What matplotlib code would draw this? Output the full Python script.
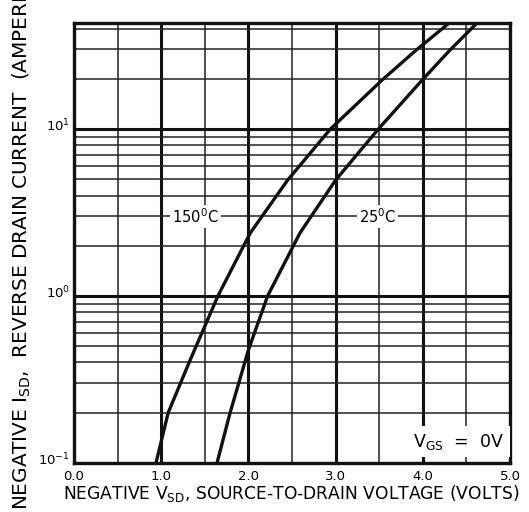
#!/usr/bin/env python3
# -*- coding: utf-8 -*-

import matplotlib
matplotlib.use("Agg")
import matplotlib.pyplot as plt
import matplotlib.transforms as mtransforms
from matplotlib.ticker import MultipleLocator, LogLocator, NullFormatter, FixedLocator

# ---------------------------
# Dados
# ---------------------------
v_150 = [0.94, 1.08, 1.32, 1.65, 2.02, 2.45, 2.94, 3.53, 3.91, 4.30]
i_150 = [0.10, 0.20, 0.40, 1.00, 2.38, 4.95, 10.0, 19.6, 29.3, 43.1]

v_25 = [1.64, 1.79, 2.00, 2.22, 2.59, 3.00, 3.49, 3.99, 4.30, 4.62]
i_25 = [0.10, 0.20, 0.475, 1.00, 2.38, 4.95, 10.0, 19.6, 29.3, 43.1]

x_ticks = [0.0, 1.0, 2.0, 3.0, 4.0, 5.0]
x_ticklabels = ["0.0", "1.0", "2.0", "3.0", "4.0", "5.0"]
y_ticks = [0.1, 1.0, 10.0]
y_ticklabels = ["10$^{-1}$", "10$^{0}$", "10$^{1}$"]

plt.rcParams["font.family"] = ["DejaVu Sans"]

fig = plt.figure(figsize=(5.29, 5.12), dpi=100)
ax = fig.add_axes([74/529, 1-463/512, (510-74)/529, (463-23)/512])

ax.set_yscale("log")
ax.set_xlim(0, 5)
ax.set_ylim(0.1, 43.2)

ax.xaxis.set_major_locator(FixedLocator(x_ticks))
ax.xaxis.set_minor_locator(MultipleLocator(0.5))
ax.yaxis.set_major_locator(FixedLocator(y_ticks))
ax.yaxis.set_minor_locator(LogLocator(base=10, subs=[2, 3, 4, 5, 6, 7, 8, 9]))
ax.yaxis.set_minor_formatter(NullFormatter())
ax.set_xticklabels(x_ticklabels)
ax.set_yticklabels(y_ticklabels)

ax.tick_params(which="both", length=0)
ax.tick_params(axis="x", labelsize=9.5, pad=5)
ax.tick_params(axis="y", labelsize=9.5, pad=3)

# rótulos do eixo y um pouco acima da linha, como no original
up = mtransforms.ScaledTranslation(0, 3/72, fig.dpi_scale_trans)
for lbl in ax.get_yticklabels():
    lbl.set_transform(lbl.get_transform() + up)

ax.grid(which="major", color="#111111", lw=2.2)
ax.grid(which="minor", color="#222222", lw=1.1)
ax.set_axisbelow(True)
for s in ax.spines.values():
    s.set_linewidth(2.4)
    s.set_color("#111111")

ax.plot(v_150, i_150, color="#111111", lw=2.4, zorder=5, solid_joinstyle="round")
ax.plot(v_25, i_25, color="#111111", lw=2.4, zorder=5, solid_joinstyle="round")

box = dict(facecolor="white", edgecolor="none", pad=1.5)
ax.text(1.39, 3.0, "150$^{0}$C", fontsize=10.5, ha="center", va="center", bbox=box, zorder=4)
ax.text(3.48, 3.0, "25$^{0}$C", fontsize=10.5, ha="center", va="center", bbox=box, zorder=4)
ax.text(4.41, 0.134, r"V$_{\mathrm{GS}}$  =  0V", fontsize=12.5, ha="center", va="center",
        bbox=dict(facecolor="white", edgecolor="none", pad=4), zorder=4)

fig.text(0.55, 1-493/512, r"NEGATIVE V$_{\mathrm{SD}}$, SOURCE-TO-DRAIN VOLTAGE (VOLTS)",
         fontsize=12.3, ha="center", va="center")
fig.text(0.042, 1-510/512, r"NEGATIVE I$_{\mathrm{SD}}$,  REVERSE DRAIN CURRENT  (AMPERES)",
         fontsize=14.4, ha="center", va="bottom", rotation=90)

plt.savefig("out.png", dpi=100)
plt.close()
